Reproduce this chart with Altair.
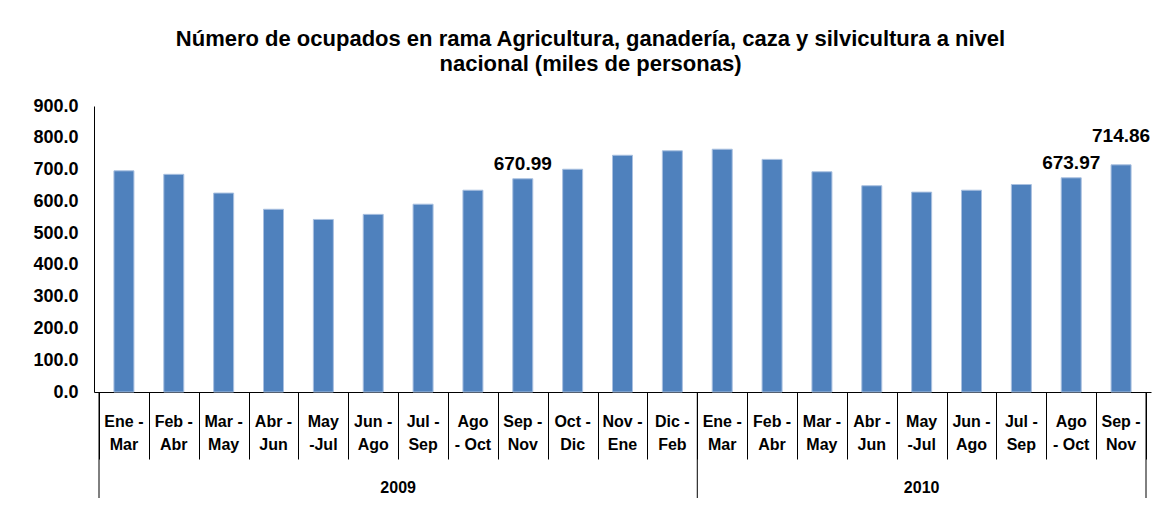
import altair as alt
import pandas as pd

# ---- data ----
periods = ["Ene -\nMar", "Feb -\nAbr", "Mar -\nMay", "Abr -\nJun", "May\n-Jul", "Jun -\nAgo",
           "Jul -\nSep", "Ago\n- Oct", "Sep -\nNov", "Oct -\nDic", "Nov -\nEne", "Dic -\nFeb",
           "Ene -\nMar", "Feb -\nAbr", "Mar -\nMay", "Abr -\nJun", "May\n-Jul", "Jun -\nAgo",
           "Jul -\nSep", "Ago\n- Oct", "Sep -\nNov"]
values = [696, 685, 626, 575, 543, 559, 591, 635, 670.99, 701, 745, 759,
          764, 732, 693, 649, 629, 635, 653, 673.97, 714.86]
years = ["2009"] * 12 + ["2010"] * 9
labelled = [8, 19]      # indices with a value label close to bar
labelled_high = [20]    # index with value label further up
year_names = ["2009", "2010"]
year_start = [0, 12]
year_end = [12, 21]
y_ticks = [0, 100, 200, 300, 400, 500, 600, 700, 800, 900]

FONT = "Liberation Sans"
W, H = 1057, 286

df = pd.DataFrame({
    "idx": [i + 0.5 for i in range(len(values))],
    "period": periods,
    "value": values,
    "year": years,
})
df_lab = df.iloc[labelled].assign(txt=lambda d: d["value"].map(lambda v: f"{v:.2f}"))
df_lab2 = df.iloc[labelled_high].assign(txt=lambda d: d["value"].map(lambda v: f"{v:.2f}"))
df_years = pd.DataFrame({"year": year_names,
                         "mid": [(a + b) / 2 for a, b in zip(year_start, year_end)]})
df_ysep = pd.DataFrame({"pos": sorted(set(year_start + year_end))})

xscale = alt.Scale(domain=[0, len(values)], nice=False, zero=False)
yscale = alt.Scale(domain=[0, 900], nice=False)

x_axis = alt.Axis(values=list(range(len(values) + 1)), labels=False, title=None,
                  tickSize=67, tickColor="black", domainColor="black",
                  tickWidth=1, domainWidth=1, grid=False)
y_axis = alt.Axis(values=y_ticks, format=".1f", title=None,
                  ticks=False, grid=False, domainColor="black", labelColor="black",
                  labelFont=FONT, labelFontSize=18, labelFontWeight="bold",
                  labelPadding=16, labelOverlap=False, labelFlush=False)


def X(field):
    return alt.X(field, scale=xscale, axis=x_axis)


def Y(field):
    return alt.Y(field, scale=yscale, axis=y_axis)


bars = alt.Chart(df).mark_bar(size=20, color="#4F81BD", stroke="#A9C0E0", strokeWidth=1).encode(
    x=X("idx:Q"), y=Y("value:Q"))

lab1 = alt.Chart(df_lab).mark_text(font=FONT, fontSize=19, fontWeight="bold",
                                   baseline="bottom", dy=-5, color="black").encode(
    x=X("idx:Q"), y=Y("value:Q"), text="txt:N")
lab2 = alt.Chart(df_lab2).mark_text(font=FONT, fontSize=19, fontWeight="bold",
                                    baseline="bottom", dy=-19, color="black").encode(
    x=X("idx:Q"), y=Y("value:Q"), text="txt:N")

cat_text = alt.Chart(df).mark_text(font=FONT, fontSize=16, fontWeight="bold",
                                   baseline="top", lineBreak="\n", lineHeight=23,
                                   color="black").encode(
    x=X("idx:Q"), y=alt.value(H + 22), text="period:N")

year_sep = alt.Chart(df_ysep).mark_rule(color="black", strokeWidth=1).encode(
    x=X("pos:Q"), y=alt.value(H), y2=alt.value(H + 115))

year_text = alt.Chart(df_years).mark_text(font=FONT, fontSize=16, fontWeight="bold",
                                          baseline="middle", color="black").encode(
    x=X("mid:Q"), y=alt.value(H + 96), text="year:N")

chart = alt.layer(bars, lab1, lab2, cat_text, year_sep, year_text).properties(
    width=W, height=H,
    background="white",
    padding={"left": 86, "top": 98, "right": 15, "bottom": 106},
    autosize=alt.AutoSizeParams(type="none"),
    title=alt.TitleParams(
        ["Número de ocupados en rama Agricultura, ganadería, caza y silvicultura a nivel",
         "nacional (miles de personas)"],
        font=FONT, fontSize=22, fontWeight="bold", color="black", anchor="middle",
        dx=-32, offset=21, lineHeight=25),
).configure_view(strokeWidth=0, stroke=None)

chart.save("out.html", embed_options={"renderer": "svg", "actions": False})
